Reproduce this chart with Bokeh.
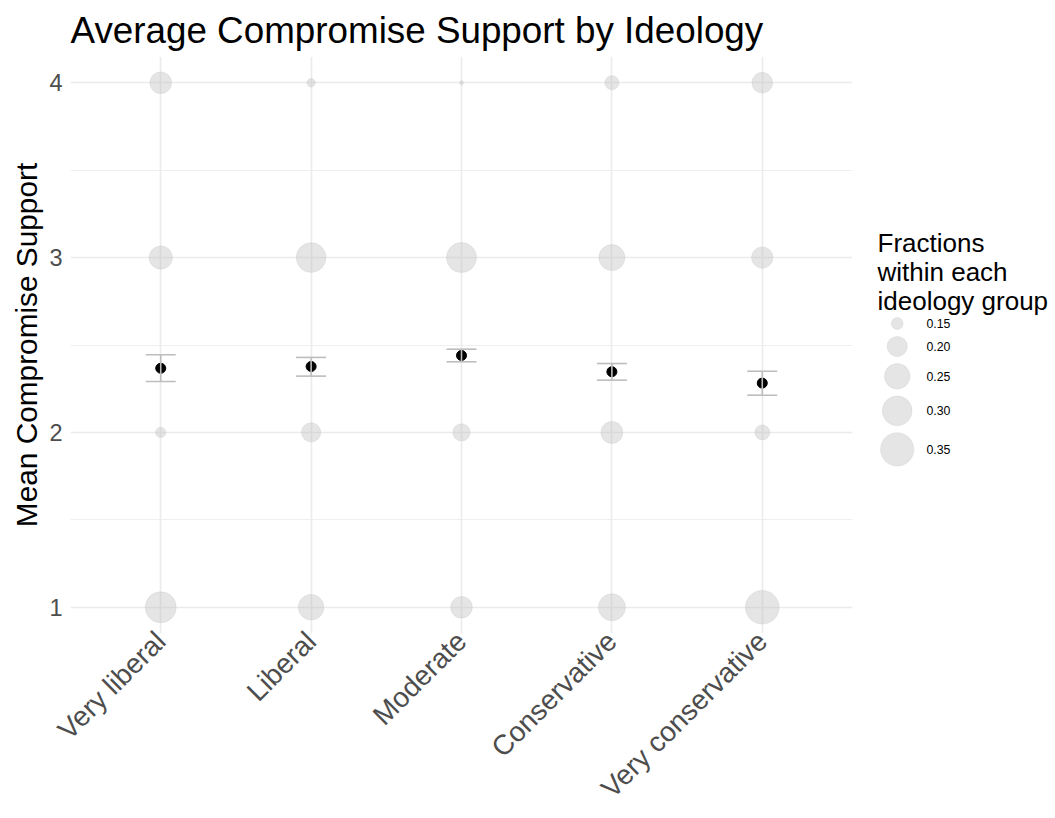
import math
from bokeh.plotting import figure
from bokeh.models import (FactorRange, Range1d, FixedTicker, Whisker, TeeHead,
                          ColumnDataSource)
from bokeh.layouts import row
from bokeh.core.properties import value
from bokeh.embed import file_html
from bokeh.resources import INLINE

# ---------------- data ----------------
categories = ["Very liberal", "Liberal", "Moderate", "Conservative", "Very conservative"]
responses = [1, 2, 3, 4]
# fraction of each ideology group giving each response (responses 1..4)
frac_very_liberal = [0.317, 0.145, 0.228, 0.213]
frac_liberal = [0.252, 0.193, 0.300, 0.140]
frac_moderate = [0.213, 0.179, 0.304, 0.135]
frac_conservative = [0.267, 0.216, 0.256, 0.161]
frac_very_conservative = [0.355, 0.165, 0.210, 0.205]

mean_support = [2.367, 2.377, 2.440, 2.347, 2.282]
ci_lower = [2.291, 2.322, 2.404, 2.299, 2.213]
ci_upper = [2.444, 2.429, 2.476, 2.394, 2.350]

y_ticks = [1, 2, 3, 4]
y_minor = [1.5, 2.5, 3.5]
legend_values = [0.15, 0.20, 0.25, 0.30, 0.35]
legend_labels = ["0.15", "0.20", "0.25", "0.30", "0.35"]
legend_title_lines = ["Fractions", "within each", "ideology group"]
title_text = "Average Compromise Support by Ideology"
y_label = "Mean Compromise Support"

# ---------------- styling ----------------
FONT = "Liberation Sans"
GRID = "#ebebeb"
BUBBLE = "#bebebe"
ERR = "#bdbdbd"
TICK_TXT = "#4d4d4d"
D_MIN, D_MAX = 4.0, 33.7
TOP, BOTTOM, HEIGHT = 56, 185, 818
Y_START, Y_END = 0.85, 4.15

all_fracs = (frac_very_liberal + frac_liberal + frac_moderate
             + frac_conservative + frac_very_conservative)
F_MIN, F_MAX = min(all_fracs), max(all_fracs)


def size_of(f):
    t = max(0.0, (f - F_MIN) / (F_MAX - F_MIN))
    return D_MIN + (D_MAX - D_MIN) * math.sqrt(t)


groups = [frac_very_liberal, frac_liberal, frac_moderate,
          frac_conservative, frac_very_conservative]
bx, by, bf, bs = [], [], [], []
for cat, fr in zip(categories, groups):
    for r, f in zip(responses, fr):
        bx.append(cat)
        by.append(r)
        bf.append(f)
        bs.append(size_of(f))
bubbles = ColumnDataSource(dict(x=bx, y=by, frac=bf, size=bs))
means = ColumnDataSource(dict(x=categories, mean=mean_support,
                              lower=ci_lower, upper=ci_upper))

# ---------------- main figure ----------------
p = figure(width=860, height=HEIGHT, output_backend="svg", toolbar_location=None,
           x_range=FactorRange(*categories, range_padding=0.1,
                               range_padding_units="absolute"),
           y_range=Range1d(Y_START, Y_END),
           min_border_left=70, min_border_right=8, min_border_top=TOP,
           min_border_bottom=BOTTOM, title=title_text)
p.outline_line_color = None
p.background_fill_color = "white"
p.border_fill_color = "white"

p.title.text_font = FONT
p.title.text_font_size = "36.8px"
p.title.text_font_style = "normal"
p.title.text_color = "black"
p.title.align = "left"
p.title.standoff = 12

# grids
p.xgrid.grid_line_color = GRID
p.xgrid.grid_line_width = 1.6
p.ygrid.ticker = FixedTicker(ticks=y_ticks, minor_ticks=y_minor)
p.ygrid.grid_line_color = GRID
p.ygrid.grid_line_width = 1.6
p.ygrid.minor_grid_line_color = GRID
p.ygrid.minor_grid_line_width = 0.8

# axes
p.yaxis.ticker = FixedTicker(ticks=y_ticks, minor_ticks=[])
for ax in (p.xaxis[0], p.yaxis[0]):
    ax.axis_line_color = None
    ax.major_tick_line_color = None
    ax.minor_tick_line_color = None
    ax.major_tick_out = 0
    ax.major_tick_in = 0
    ax.minor_tick_out = 0
    ax.minor_tick_in = 0
    ax.major_label_text_font = FONT
    ax.major_label_text_color = TICK_TXT
p.yaxis.major_label_text_font_size = "23.5px"
p.yaxis.major_label_standoff = 8
p.yaxis.axis_label = y_label
p.yaxis.axis_label_text_font = FONT
p.yaxis.axis_label_text_font_size = "29.8px"
p.yaxis.axis_label_text_font_style = "normal"
p.yaxis.axis_label_text_color = "black"
p.yaxis.axis_label_standoff = 3
# rotated category labels (top-right corner anchored below each category)
p.xaxis.major_label_text_font_size = "28px"
p.xaxis.major_label_orientation = math.pi / 4
p.xaxis.major_label_standoff = 3

# bubbles
p.scatter(x="x", y="y", size="size", source=bubbles, marker="circle",
          fill_color=BUBBLE, fill_alpha=0.4, line_color=BUBBLE, line_alpha=0.45,
          line_width=0.6)
# mean points
p.scatter(x="x", y="mean", source=means, marker="circle", size=10,
          fill_color="black", line_color="black")
# error bars (drawn above the points)
w = Whisker(base="x", lower="lower", upper="upper", source=means,
            dimension="height", line_color=ERR, line_width=1.6,
            upper_head=TeeHead(size=30, line_color=ERR, line_width=1.6),
            lower_head=TeeHead(size=30, line_color=ERR, line_width=1.6))
w.level = "annotation"
p.add_layout(w)

# ---------------- legend figure ----------------
LW = 195
lg = figure(width=LW, height=HEIGHT, output_backend="svg", toolbar_location=None,
            x_range=Range1d(0, LW), y_range=Range1d(HEIGHT - BOTTOM, TOP),
            x_axis_type=None, y_axis_type=None,
            min_border_left=0, min_border_right=0,
            min_border_top=TOP, min_border_bottom=BOTTOM)
lg.outline_line_color = None
lg.xgrid.visible = False
lg.ygrid.visible = False

title_x = 17
title_first_baseline = 242.7
title_line_h = 28.7
lg.text(x=[title_x] * len(legend_title_lines),
        y=[title_first_baseline + i * title_line_h for i in range(len(legend_title_lines))],
        text=legend_title_lines, text_font=value(FONT), text_font_size="26px",
        text_color="black", text_baseline="alphabetic", text_align="left")

key_sizes = [size_of(v) for v in legend_values]
key_pad = 7.0
centers = [323.0]
for i in range(1, len(key_sizes)):
    centers.append(centers[-1] + (key_sizes[i - 1] + key_sizes[i]) / 2 + key_pad)
key_x = 36.7
lg.scatter(x=[key_x] * len(legend_values), y=centers, size=key_sizes,
           marker="circle", fill_color=BUBBLE, fill_alpha=0.4,
           line_color=BUBBLE, line_alpha=0.45, line_width=0.6)
lg.text(x=[66] * len(legend_labels), y=centers, text=legend_labels,
        text_font=value(FONT), text_font_size="12.3px", text_color="black",
        text_baseline="middle", text_align="left")

layout = row(p, lg)
open("out.html", "w").write(file_html(layout, INLINE))
